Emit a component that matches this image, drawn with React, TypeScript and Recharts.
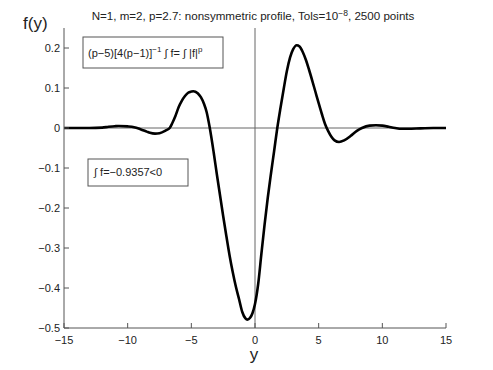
import React from 'react';
import { LineChart, Line, XAxis, YAxis, ReferenceLine } from 'recharts';

const yPos = [
  -15, -14, -13, -12, -11.5, -11, -10.7, -10, -9.5, -9, -8.5, -8.25, -7.85, -7.5, -7, -6.7,
  -6.5, -6.25, -6, -5.75, -5.5, -5.25, -5, -4.85, -4.5, -4.25, -4, -3.8, -3.55, -3.25, -3,
  -2.5, -2.25, -2, -1.75, -1.5, -1.25, -1, -0.75, -0.6, -0.4, -0.2, 0, 0.25, 0.5, 0.75, 1, 1.25, 1.5,
  1.75, 2, 2.25, 2.5, 2.75, 3, 3.27, 3.5, 3.75, 4, 4.25, 4.5, 4.75, 5, 5.25, 5.5, 5.75, 6,
  6.25, 6.6, 7, 7.5, 8, 8.4, 9, 9.5, 10, 10.5, 11, 11.5, 12, 13, 14, 15,
];
const fVals = [
  0, 0, 0, 0.001, 0.003, 0.0045, 0.005, 0.004, 0.002, -0.003, -0.009, -0.012, -0.014, -0.013, -0.006, 0,
  0.012, 0.03, 0.052, 0.068, 0.08, 0.088, 0.091, 0.092, 0.087, 0.077, 0.06, 0.04, 0, -0.06, -0.115,
  -0.22, -0.27, -0.318, -0.36, -0.397, -0.428, -0.46, -0.476, -0.479, -0.475, -0.463, -0.44, -0.39, -0.315, -0.242, -0.175, -0.115, -0.058,
  0, 0.05, 0.097, 0.142, 0.176, 0.197, 0.207, 0.204, 0.19, 0.17, 0.145, 0.118, 0.09, 0.062, 0.035, 0.01, -0.008, -0.022,
  -0.031, -0.035, -0.031, -0.02, -0.007, 0, 0.006, 0.007, 0.006, 0.003, 0, -0.002, -0.002, -0.001, 0, 0,
];

const xTicks = [-15, -10, -5, 0, 5, 10, 15];
const yTicks = [-0.5, -0.4, -0.3, -0.2, -0.1, 0, 0.1, 0.2];

const data = yPos.map((y, i) => ({ y, f: fVals[i] }));

const W = 493;
const H = 370;
const FONT = '"Liberation Sans", Arial, Helvetica, sans-serif';
const AXIS = '#555';
const TXT = '#222';
const TL = 5; // inward tick length

const fmt = (v: number) => String(v).replace('-', '\u2212');

const BottomTick = (props: any) => {
  const { x, y, payload } = props;
  return (
    <g>
      <line x1={x} y1={y} x2={x} y2={y - TL} stroke={AXIS} />
      <text x={x} y={y + 16} textAnchor="middle" fontSize={11} fontFamily={FONT} fill={TXT}>
        {fmt(payload.value)}
      </text>
    </g>
  );
};

const TopTick = (props: any) => {
  const { x, y } = props;
  return <line x1={x} y1={y} x2={x} y2={y + TL} stroke={AXIS} />;
};

const LeftTick = (props: any) => {
  const { x, y, payload } = props;
  return (
    <g>
      <line x1={x} y1={y} x2={x + TL} y2={y} stroke={AXIS} />
      <text x={x - 4} y={y + 4} textAnchor="end" fontSize={11} fontFamily={FONT} fill={TXT}>
        {fmt(payload.value)}
      </text>
    </g>
  );
};

const RightTick = (props: any) => {
  const { x, y } = props;
  return <line x1={x} y1={y} x2={x - TL} y2={y} stroke={AXIS} />;
};

export default function App() {
  return (
    <div style={{ position: 'absolute', left: 0, top: 0, width: W, height: H, background: '#fff' }}>
      <LineChart width={W} height={H} data={data} margin={{ top: 28, right: 47, left: 0, bottom: 0 }}>
        <XAxis
          dataKey="y"
          type="number"
          domain={[-15, 15]}
          ticks={xTicks}
          height={42}
          tickSize={0}
          tickMargin={0}
          tick={<BottomTick />}
          axisLine={{ stroke: AXIS }}
          allowDataOverflow
        />
        <XAxis
          xAxisId="top"
          orientation="top"
          dataKey="y"
          type="number"
          domain={[-15, 15]}
          ticks={xTicks}
          height={0}
          tickSize={0}
          tickMargin={0}
          tick={<TopTick />}
          axisLine={{ stroke: AXIS }}
        />
        <YAxis
          type="number"
          domain={[-0.5, 0.25]}
          ticks={yTicks}
          width={64}
          tickSize={0}
          tickMargin={0}
          tick={<LeftTick />}
          axisLine={{ stroke: AXIS }}
          allowDataOverflow
        />
        <YAxis
          yAxisId="right"
          orientation="right"
          type="number"
          domain={[-0.5, 0.25]}
          ticks={yTicks}
          width={0}
          tickSize={0}
          tickMargin={0}
          tick={<RightTick />}
          axisLine={{ stroke: AXIS }}
        />
        <ReferenceLine y={0} stroke="#666" strokeWidth={1} />
        <ReferenceLine x={0} stroke="#666" strokeWidth={1} />
        <Line
          dataKey="f"
          type="monotone"
          stroke="#000"
          strokeWidth={2.6}
          dot={false}
          isAnimationActive={false}
        />
      </LineChart>
      <svg
        width={W}
        height={H}
        style={{ position: 'absolute', left: 0, top: 0, pointerEvents: 'none' }}
        fontFamily={FONT}
      >
        <text x={253} y={20} textAnchor="middle" fontSize={11.6} fill={TXT}>
          N=1, m=2, p=2.7: nonsymmetric profile, Tols=10
          <tspan dy={-4} fontSize={8.5}>{'\u22128'}</tspan>
          <tspan dy={4}>, 2500 points</tspan>
        </text>
        <text x={23} y={29} fontSize={17} fill={TXT}>f(y)</text>
        <text x={254} y={360} textAnchor="middle" fontSize={17} fill={TXT}>y</text>

        <rect x={83} y={37} width={140} height={31} fill="#fff" stroke={AXIS} />
        <text x={88} y={57} fontSize={11} fill={TXT}>
          (p{'\u2212'}5)[4(p{'\u2212'}1)]
          <tspan dy={-5} fontSize={8}>{'\u22121'}</tspan>
          <tspan dy={5}>{' \u222B f= \u222B |f|'}</tspan>
          <tspan dy={-5} fontSize={8}>p</tspan>
        </text>

        <rect x={88} y={159} width={100} height={27} fill="#fff" stroke={AXIS} />
        <text x={94} y={176} fontSize={11} fill={TXT}>
          {'\u222B f=\u22120.9357<0'}
        </text>
      </svg>
    </div>
  );
}
